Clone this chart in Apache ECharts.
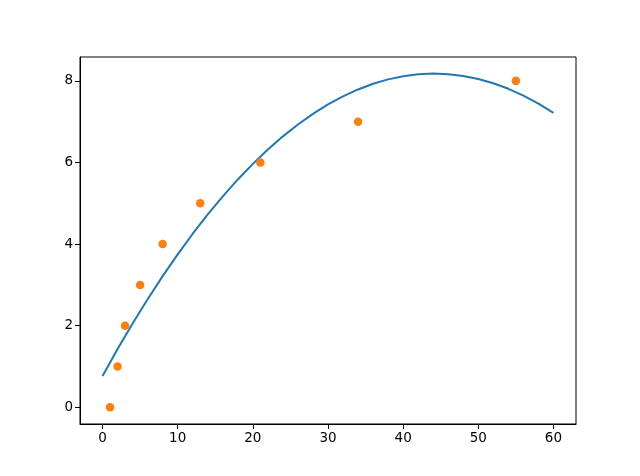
<!DOCTYPE html>
<html>
<head>
<meta charset="utf-8">
<script src="https://cdn.jsdelivr.net/npm/echarts@6/dist/echarts.min.js"></script>
<style>html,body{margin:0;padding:0;background:#fff}#c{width:640px;height:476px}</style>
</head>
<body>
<div id="c"></div>
<script>
// scatter points
const pointX = [1, 2, 3, 5, 8, 13, 21, 34, 55];
const pointY = [0, 1, 2, 3, 4, 5, 6, 7, 8];
// fitted curve, values
const curveX = [0, 2, 4, 6, 8, 10, 12, 14, 16, 18, 20, 22, 24, 26, 28, 30, 32, 34, 36, 38, 40, 42, 44, 46, 48, 50, 52, 54, 56, 58, 60];
const curveY = [0.770, 1.427, 2.053, 2.649, 3.214, 3.749, 4.254, 4.728, 5.171, 5.584, 5.966, 6.318, 6.640, 6.931, 7.192, 7.422, 7.621, 7.790, 7.929, 8.037, 8.115, 8.162, 8.179, 8.165, 8.121, 8.047, 7.941, 7.806, 7.640, 7.443, 7.216];
const xTicks = [0, 10, 20, 30, 40, 50, 60];
const yTicks = [0, 2, 4, 6, 8];

const chart = echarts.init(document.getElementById('c'), null, {renderer: 'canvas'});
const font = {fontFamily: 'DejaVu Sans', fontSize: 13.5, color: '#000'};
chart.setOption({
  animation: false,
  backgroundColor: '#fff',
  grid: {left: 80, right: 64, top: 57, bottom: 52, show: true, borderColor: '#000', borderWidth: 1, backgroundColor: 'transparent'},
  xAxis: {
    type: 'value', min: -3, max: 63,
    splitLine: {show: false},
    axisLine: {show: true, onZero: false, lineStyle: {color: '#000', width: 1}},
    axisTick: {show: true, length: 5, customValues: xTicks, lineStyle: {color: '#000'}},
    axisLabel: Object.assign({margin: 7, customValues: xTicks}, font)
  },
  yAxis: {
    type: 'value', min: -0.409, max: 8.585,
    splitLine: {show: false},
    axisLine: {show: true, onZero: false, lineStyle: {color: '#000', width: 1}},
    axisTick: {show: true, length: 5, customValues: yTicks, lineStyle: {color: '#000'}},
    axisLabel: Object.assign({margin: 7, customValues: yTicks}, font)
  },
  series: [
    {
      type: 'line',
      data: curveX.map((x, i) => [x, curveY[i]]),
      smooth: false,
      showSymbol: false,
      lineStyle: {color: '#1f77b4', width: 2},
      z: 2
    },
    {
      type: 'scatter',
      data: pointX.map((x, i) => [x, pointY[i]]),
      symbolSize: 8.5,
      itemStyle: {color: '#ff7f0e', opacity: 1},
      z: 3
    }
  ]
});
</script>
</body>
</html>
